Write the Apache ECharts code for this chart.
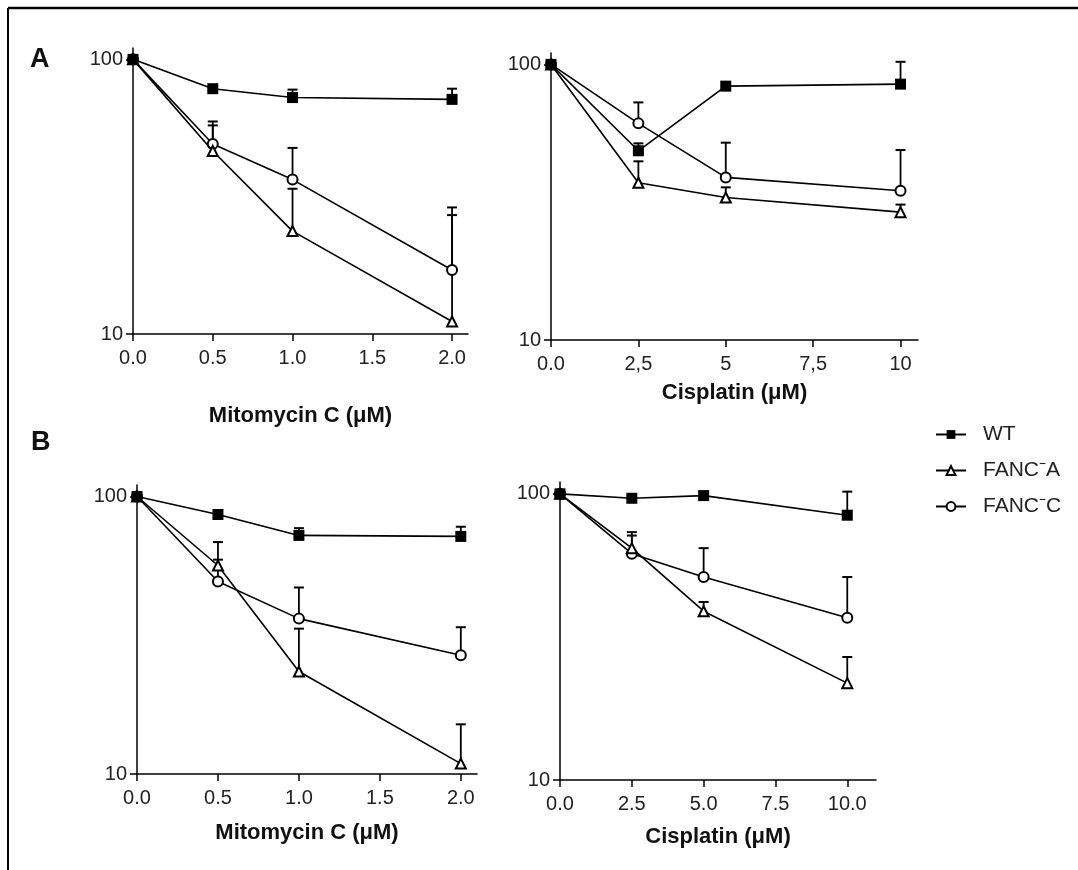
<!DOCTYPE html>
<html>
<head>
<meta charset="utf-8">
<script src="https://cdn.jsdelivr.net/npm/echarts@6/dist/echarts.min.js"></script>
<style>
  html, body { margin: 0; padding: 0; background: #fff; }
  #chart { width: 1078px; height: 870px; }
</style>
</head>
<body>
<div id="chart"></div>
<script>
// doses
const mmcDoses = [0, 0.5, 1, 2]
const cisDoses = [0, 2.5, 5, 10]

// tick labels
const mmcTicks = [0, 0.5, 1, 1.5, 2]
const mmcTickLabels = ['0.0', '0.5', '1.0', '1.5', '2.0']
const cisTicks = [0, 2.5, 5, 7.5, 10]
const cisTickLabelsA = ['0.0', '2,5', '5', '7,5', '10']
const cisTickLabelsB = ['0.0', '2.5', '5.0', '7.5', '10.0']
const yTicks = [10, 100]

// panel A, mitomycin C
const aMmcWT = [100, 78.2, 72.6, 71.5]
const aMmcWTErr = [null, null, 77.6, 78.2]
const aMmcA = [100, 46.4, 23.7, 11.1]
const aMmcAErr = [null, 57.5, 33.8, 27.1]
const aMmcC = [100, 49.2, 36.5, 17.1]
const aMmcCErr = [null, 59.4, 47.6, 28.9]

// panel A, cisplatin
const aCisWT = [100, 48.6, 83.4, 84.8]
const aCisWTErr = [null, 51.7, null, 102.2]
const aCisA = [100, 37.2, 32.9, 29.1]
const aCisAErr = [null, 44.5, 35.8, 31]
const aCisC = [100, 61.1, 38.9, 34.8]
const aCisCErr = [null, 72.8, 52, 48.9]

// panel B, mitomycin C
const bMmcWT = [100, 86.1, 72.4, 71.8]
const bMmcWTErr = [null, null, 76.9, 77.8]
const bMmcA = [100, 56.4, 23.4, 10.9]
const bMmcAErr = [null, 68.5, 33.4, 15.1]
const bMmcC = [100, 49.4, 36.3, 26.8]
const bMmcCErr = [null, 59.2, 47.0, 33.8]

// panel B, cisplatin
const bCisWT = [100, 96.5, 98.6, 84.2]
const bCisWTErr = [null, null, null, 101.8]
const bCisA = [100, 64.6, 38.9, 21.8]
const bCisAErr = [null, 73.5, 41.9, 26.9]
const bCisC = [100, 61.8, 51.2, 36.9]
const bCisCErr = [null, 71.5, 64.6, 51.2]

const names = ['WT', 'FANC\u207BA', 'FANC\u207BC']
const FONT = '"Liberation Sans", Arial, sans-serif'

const chart = echarts.init(document.getElementById('chart'))

function xAxisOf(grid, max, ticks, labels, title, gap) {
  return {
    type: 'value', gridIndex: grid, min: 0, max: max,
    axisLine: { show: true, onZero: false, lineStyle: { color: '#000', width: 1.5 } },
    axisTick: { show: true, length: 7, customValues: ticks, lineStyle: { color: '#000', width: 1.5 } },
    axisLabel: {
      customValues: ticks, margin: 14, color: '#222', fontSize: 20, fontFamily: FONT,
      formatter: v => labels[ticks.indexOf(v)] ?? ''
    },
    splitLine: { show: false },
    name: title, nameLocation: 'middle', nameGap: gap,
    nameTextStyle: { color: '#111', fontSize: 22, fontWeight: 'bold', fontFamily: FONT }
  }
}

function yAxisOf(grid) {
  return {
    type: 'log', logBase: 10, gridIndex: grid, min: 10, max: 110,
    axisLine: { show: true, onZero: false, lineStyle: { color: '#000', width: 1.5 } },
    axisTick: { show: true, length: 7, customValues: yTicks, lineStyle: { color: '#000', width: 1.5 } },
    axisLabel: { customValues: yTicks, margin: 10, color: '#222', fontSize: 20, fontFamily: FONT },
    splitLine: { show: false },
    minorTick: { show: false }
  }
}

const styles = [
  { symbol: 'rect', size: 11 },
  { symbol: 'emptyTriangle', size: 10 },
  { symbol: 'emptyCircle', size: 10 }
]

function lineSeries(idx, grid, xs, ys) {
  return {
    type: 'line', name: names[idx], xAxisIndex: grid, yAxisIndex: grid,
    data: xs.map((x, i) => [x, ys[i]]),
    symbol: styles[idx].symbol, symbolSize: styles[idx].size,
    itemStyle: { color: '#000', borderWidth: 1.3 },
    lineStyle: { color: '#000', width: 1.6 },
    z: 5 - idx,
    animation: false
  }
}

function errSeries(grid, xs, ys, tops) {
  const data = []
  xs.forEach((x, i) => { if (tops[i] != null) data.push([x, ys[i], tops[i]]) })
  return {
    type: 'custom', xAxisIndex: grid, yAxisIndex: grid, data: data,
    encode: { x: 0, y: [1, 2] }, clip: false, z: 1, silent: true,
    renderItem: (params, api) => {
      const base = api.coord([api.value(0), api.value(1)])
      const top = api.coord([api.value(0), api.value(2)])
      return {
        type: 'group',
        children: [
          { type: 'line', shape: { x1: base[0], y1: base[1], x2: top[0], y2: top[1] }, style: { stroke: '#000', lineWidth: 1.8 } },
          { type: 'line', shape: { x1: top[0] - 5, y1: top[1], x2: top[0] + 5, y2: top[1] }, style: { stroke: '#000', lineWidth: 2 } }
        ]
      }
    }
  }
}

const panels = [
  { xs: mmcDoses, sets: [[aMmcWT, aMmcWTErr], [aMmcA, aMmcAErr], [aMmcC, aMmcCErr]] },
  { xs: cisDoses, sets: [[aCisWT, aCisWTErr], [aCisA, aCisAErr], [aCisC, aCisCErr]] },
  { xs: mmcDoses, sets: [[bMmcWT, bMmcWTErr], [bMmcA, bMmcAErr], [bMmcC, bMmcCErr]] },
  { xs: cisDoses, sets: [[bCisWT, bCisWTErr], [bCisA, bCisAErr], [bCisC, bCisCErr]] }
]

const series = []
panels.forEach((p, g) => {
  p.sets.forEach(([ys, errs]) => series.push(errSeries(g, p.xs, ys, errs)))
  // open markers first, WT on top
  ;[1, 2, 0].forEach(k => series.push(lineSeries(k, g, p.xs, p.sets[k][0])))
})

chart.setOption({
  backgroundColor: '#fff',
  animation: false,
  grid: [
    { left: 133, top: 48, width: 335, height: 286 },
    { left: 551, top: 53, width: 367, height: 287 },
    { left: 137, top: 485, width: 340, height: 289 },
    { left: 560, top: 482, width: 316, height: 298 }
  ],
  xAxis: [
    xAxisOf(0, 2.1, mmcTicks, mmcTickLabels, 'Mitomycin C (\u03BCM)', 71),
    xAxisOf(1, 10.5, cisTicks, cisTickLabelsA, 'Cisplatin (\u03BCM)', 42),
    xAxisOf(2, 2.1, mmcTicks, mmcTickLabels, 'Mitomycin C (\u03BCM)', 48),
    xAxisOf(3, 11, cisTicks, cisTickLabelsB, 'Cisplatin (\u03BCM)', 46)
  ],
  yAxis: [yAxisOf(0), yAxisOf(1), yAxisOf(2), yAxisOf(3)],
  legend: {
    data: names, orient: 'vertical', left: 930, top: 419,
    itemWidth: 30, itemHeight: 11, itemGap: 15,
    textStyle: { color: '#222', fontSize: 21, fontFamily: FONT, padding: [0, 0, 0, 12] }
  },
  graphic: [
    { type: 'line', shape: { x1: 8, y1: 8, x2: 1078, y2: 8 }, style: { stroke: '#000', lineWidth: 2.5 } },
    { type: 'line', shape: { x1: 8, y1: 8, x2: 8, y2: 870 }, style: { stroke: '#000', lineWidth: 2 } },
    { type: 'text', left: 30, top: 46, style: { text: 'A', font: 'bold 27px ' + FONT, fill: '#111' } },
    { type: 'text', left: 31, top: 429, style: { text: 'B', font: 'bold 27px ' + FONT, fill: '#111' } }
  ],
  series: series
})
</script>
</body>
</html>
